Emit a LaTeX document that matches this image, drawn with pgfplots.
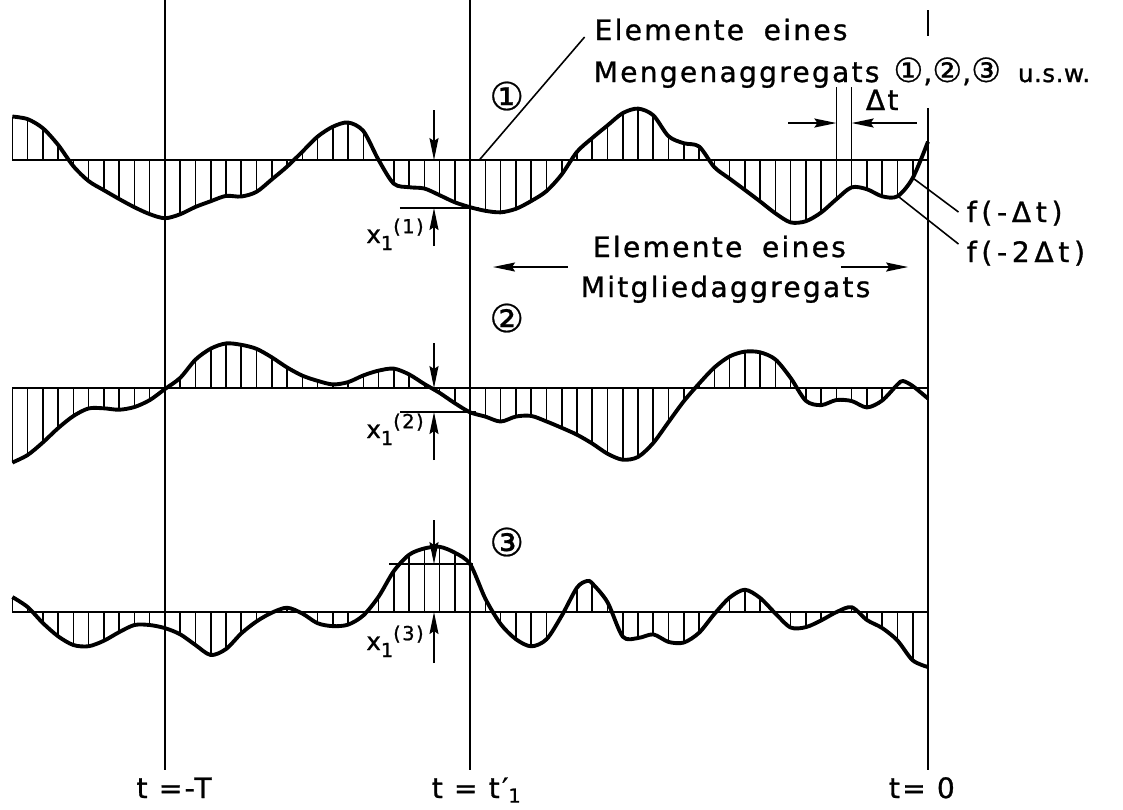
\documentclass[border=0pt]{standalone}
\usepackage{fontspec}
\setmainfont{DejaVu Sans}[LetterSpace=8, FakeBold=1]
\newfontfamily\circfont{DejaVu Sans}[FakeBold=0.6]
\newfontfamily\uswfont{DejaVu Sans}[LetterSpace=2, FakeBold=1]
\usepackage{pgfplots}
\pgfplotsset{compat=1.18}
\usepackage{pgfplotstable}
\usetikzlibrary{arrows.meta}
\newcommand\lab{\fontsize{8pt}{9pt}\selectfont}
\newcommand\idx{\fontsize{5.5pt}{6pt}\selectfont}
% columns: k = time in steps of Delta t (t=0 at k=0), y = drawing height (downwards), h = 1 for a sampling instant
\pgfplotstableread{
k y h
-60 116.5 1
-59 119.1 1
-58 128.2 1
-57 144.9 1
-56 166.2 1
-55 181.1 1
-54 190.2 1
-53 199.0 1
-52 207.2 1
-51 214.1 1
-50 218.2 1
-49 214.2 1
-48 206.9 1
-47 201.2 1
-46 195.9 1
-45 196.5 1
-44 191.8 1
-43 179.4 1
-42 166.6 1
-41 151.7 1
-40 136.6 1
-39 126.7 1
-38 122.5 1
-37 131.0 1
-36 160.0 1
-35 183.7 1
-34 187.2 1
-33 188.5 1
-32 195.2 1
-31 202.3 1
-30 207.2 1
-29 210.8 1
-28 212.3 1
-27 208.8 1
-26 201.0 1
-25 191.1 1
-24 174.4 1
-23 151.8 1
-22 138.0 1
-21 125.4 1
-20 113.1 1
-19 108.6 1
-18 115.3 1
-17 136.2 1
-16 143.2 1
-15 146.5 1
-14 167.1 1
-13 178.6 1
-12 189.9 1
-11 201.4 1
-10 213.3 1
-9 222.4 1
-8 221.2 1
-7 212.5 1
-6 199.2 1
-5 187.3 1
-4 189.2 1
-3 196.3 1
-2 196.3 1
-1 178.0 1
0 141.7 1
}\curveA
\pgfplotstableread{
k y h
-60 462.5 1
-59 455.0 1
-58 442.4 1
-57 428.1 1
-56 416.0 1
-55 408.4 1
-54 408.3 1
-53 409.7 1
-52 407.0 1
-51 400.1 1
-50 389.0 1
-49 377.8 1
-48 359.6 1
-47 348.6 1
-46 343.4 1
-45 344.8 1
-44 348.8 1
-43 357.3 1
-42 367.4 1
-41 375.6 1
-40 380.8 1
-39 384.4 1
-38 382.1 1
-37 375.4 1
-36 370.6 1
-35 368.6 1
-34 374.4 1
-33 384.0 1
-32 392.9 1
-31 403.2 1
-30 412.3 1
-29 416.6 1
-28 421.5 1
-27 416.5 1
-26 415.9 1
-25 421.4 1
-24 427.8 1
-23 434.7 1
-22 443.5 1
-21 453.7 1
-20 459.7 1
-19 456.9 1
-18 442.9 1
-17 422.0 1
-16 401.2 1
-15 383.6 1
-14 367.5 1
-13 356.4 1
-12 351.6 1
-11 352.3 1
-10 359.4 1
-9 377.9 1
-8 400.8 1
-7 405.1 1
-6 400.0 1
-5 401.0 1
-4 407.4 1
-3 400.5 1
-2 384.5 1
-1.64 381.0 0
-1 386.0 1
0 398.5 1
}\curveB
\pgfplotstableread{
k y h
-60 597.0 1
-59 607.0 1
-58 623.0 1
-57 636.3 1
-56 645.0 1
-55 646.2 1
-54 640.7 1
-53 632.1 1
-52 625.0 1
-51 625.0 1
-50 628.1 1
-49 634.3 1
-48 645.0 1
-47 655.0 1
-46 649.0 1
-45 633.4 1
-44 621.4 1
-43 612.7 1
-42 607.7 1
-41 613.5 1
-40 623.2 1
-39 626.1 1
-38 624.6 1
-37 615.4 1
-36 596.6 1
-35 571.0 1
-34 554.7 1
-33 548.4 1
-32 546.8 1
-31 552.7 1
-30 564.2 1
-29 598.8 1
-28 624.0 1
-27 639.2 1
-26 646.3 1
-25 639.3 1
-24 615.7 1
-23 587.6 1
-22.35 581.0 0
-22 583.4 1
-21 602.2 1
-20 636.6 1
-19 638.0 1
-18 634.4 1
-17 641.9 1
-16 642.5 1
-15 632.7 1
-14 614.0 1
-13 597.6 1
-12 589.7 1
-11 597.9 1
-10 613.4 1
-9 627.5 1
-8 627.1 1
-7 620.4 1
-6 612.1 1
-5 607.2 1
-4 620.0 1
-3 628.0 1
-2 640.5 1
-1 660.3 1
0 667.0 1
}\curveC
\begin{document}
\begin{tikzpicture}
\begin{axis}[
  width=11.23cm, height=8.09cm, scale only axis,
  xmin=-60.81, xmax=12.78, ymin=0, ymax=809, y dir=reverse,
  axis lines=none, clip=false,
  thinl/.style={line width=0.45pt, black},
  arr/.style={line width=0.45pt, black, -{Stealth[length=2.2mm,width=0.9mm,inset=0.3mm]}},
  hatch/.style={line width=0.45pt, black, restrict expr to domain={\thisrow{h}}{0.5:1.5}, unbounded coords=discard},
  curve/.style={line width=1.1pt, black, smooth, tension=0.5, line join=round},
]
% time markers
\addplot[thinl] coordinates {(-50,0) (-50,770)};
\addplot[thinl] coordinates {(-30,0) (-30,770)};
\addplot[thinl] coordinates {(0,10) (0,36)};
\addplot[thinl] coordinates {(0,108) (0,770)};
% baselines
\addplot[thinl] coordinates {(-60,160) (0,160)};
\addplot[thinl] coordinates {(-60,388) (0,388)};
\addplot[thinl] coordinates {(-60,612) (0,612)};
% hatching
\addplot[hatch, quiver={u=0, v=160-\thisrow{y}}] table[x=k,y=y]{\curveA};
\addplot[hatch, quiver={u=0, v=388-\thisrow{y}}] table[x=k,y=y]{\curveB};
\addplot[hatch, quiver={u=0, v=612-\thisrow{y}}] table[x=k,y=y]{\curveC};
% curves
\addplot[curve] table[x=k,y=y]{\curveA};
\addplot[curve] table[x=k,y=y]{\curveB};
\addplot[curve] table[x=k,y=y]{\curveC};
% Delta t dimension
\addplot[thinl] coordinates {(-6,87) (-6,160)};
\addplot[thinl] coordinates {(-5,87) (-5,160)};
\addplot[arr] coordinates {(-9.17,123) (-6,123)};
\addplot[arr] coordinates {(-0.73,123) (-5,123)};
\node[anchor=base, inner sep=0pt, font=\lab] at (axis cs:-3.0,110) {Δt};
% leaders
\addplot[thinl] coordinates {(-29.4,160) (-22.5,37)};
\addplot[thinl] coordinates {(-0.9,179) (2.0,212)};
\addplot[thinl] coordinates {(-1.9,197) (2.0,244)};
% x1 dimensions
\addplot[arr] coordinates {(-32.37,110) (-32.37,160)};
\addplot[thinl] coordinates {(-34.6,208) (-29.4,208)};
\addplot[arr] coordinates {(-32.37,246) (-32.37,208)};
\addplot[arr] coordinates {(-32.37,343) (-32.37,388)};
\addplot[thinl] coordinates {(-34.6,412) (-29.6,412)};
\addplot[arr] coordinates {(-32.37,460) (-32.37,412)};
\addplot[arr] coordinates {(-32.37,520) (-32.37,564)};
\addplot[thinl] coordinates {(-35.3,564) (-29.8,564)};
\addplot[arr] coordinates {(-32.37,663) (-32.37,612)};
% middle arrows
\addplot[arr] coordinates {(-23.6,267) (-28.5,267)};
\addplot[arr] coordinates {(-5.7,267) (-1.3,267)};
% texts
\node[anchor=base west, inner sep=0pt, font=\lab] at (axis cs:-21.89,40) {Elemente\hspace{0.3em} eines};
\node[anchor=base west, inner sep=0pt, font=\lab] at (axis cs:-21.95,82) {Mengenaggregats\hspace{0.1em} {\circfont\fontsize{9.5pt}{10pt}\selectfont ①},{\circfont\fontsize{9.5pt}{10pt}\selectfont ②},{\circfont\fontsize{9.5pt}{10pt}\selectfont ③}\hspace{0.2em} {\uswfont\fontsize{7pt}{8pt}\selectfont u.s.w.}};
\node[anchor=base west, inner sep=0pt, font=\lab] at (axis cs:-22.0,257) {Elemente\hspace{0.3em} eines};
\node[anchor=base west, inner sep=0pt, font=\lab] at (axis cs:-22.8,297) {Mitgliedaggregats};
\node[anchor=base west, inner sep=0pt, font=\lab] at (axis cs:2.5,222) {f\,(\,-\,Δ\,t\,)};
\node[anchor=base west, inner sep=0pt, font=\lab] at (axis cs:2.5,262) {f\,(\,-\,2\,Δ\,t\,)};
\node[inner sep=0pt, font=\circfont\fontsize{11pt}{12pt}\selectfont] at (axis cs:-27.6,96) {①};
\node[inner sep=0pt, font=\circfont\fontsize{11pt}{12pt}\selectfont] at (axis cs:-27.6,318) {②};
\node[inner sep=0pt, font=\circfont\fontsize{11pt}{12pt}\selectfont] at (axis cs:-27.6,542) {③};
\node[anchor=base east, inner sep=0pt, font=\fontsize{7pt}{8pt}\selectfont] at (axis cs:-33.0,243) {x\raisebox{-2pt}{\idx 1}\raisebox{2.8pt}{\idx (1)}};
\node[anchor=base east, inner sep=0pt, font=\fontsize{7pt}{8pt}\selectfont] at (axis cs:-33.0,438) {x\raisebox{-2pt}{\idx 1}\raisebox{2.8pt}{\idx (2)}};
\node[anchor=base east, inner sep=0pt, font=\fontsize{7pt}{8pt}\selectfont] at (axis cs:-33.0,650) {x\raisebox{-2pt}{\idx 1}\raisebox{2.8pt}{\idx (3)}};
\node[anchor=base, inner sep=0pt, font=\fontsize{8pt}{9pt}\selectfont] at (axis cs:-49.4,798) {t =-T};
\node[anchor=base, inner sep=0pt, font=\fontsize{8pt}{9pt}\selectfont] at (axis cs:-29.6,798) {t = t′\raisebox{-1.3pt}{\idx 1}};
\node[anchor=base, inner sep=0pt, font=\fontsize{8pt}{9pt}\selectfont] at (axis cs:-0.4,798) {t= 0};
\end{axis}
\pgfresetboundingbox
\path[use as bounding box] (current axis.south west) rectangle (current axis.north east);
\end{tikzpicture}
\end{document}
